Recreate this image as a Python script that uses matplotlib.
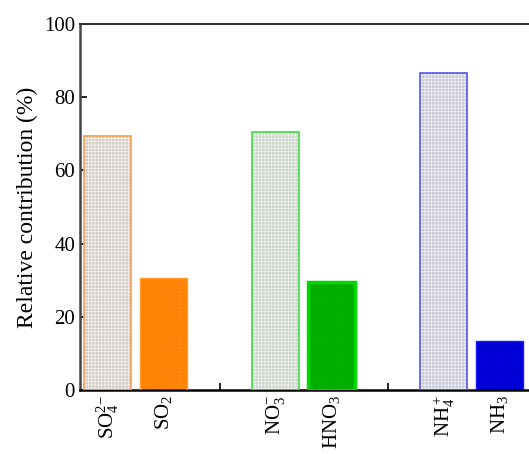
import matplotlib.pyplot as plt

plt.rcParams['font.family'] = 'Liberation Serif'
plt.rcParams['mathtext.fontset'] = 'custom'
plt.rcParams['mathtext.rm'] = 'Liberation Serif'
plt.rcParams['mathtext.it'] = 'Liberation Serif:italic'
plt.rcParams['hatch.linewidth'] = 0.6

# ---------------------------
# Data
# ---------------------------
labels = [r'SO$_4^{2\mathrm{-}}$', r'SO$_2$', r'NO$_3^{\mathrm{-}}$', r'HNO$_3$',
          r'NH$_4^+$', r'NH$_3$']
positions = [1, 2, 4, 5, 7, 8]
values = [69.4, 30.6, 70.6, 29.4, 86.6, 13.4]

# particle phase: pale textured fill, gas phase: solid colour
face_colors = ['#d2ccc6', '#ff8000', '#cbd3cb', '#00b400', '#c8c8d6', '#0000dd']
hatch_colors = ['#f2f0ee', '#ff8a10', '#eef2ee', '#00a800', '#eeeef6', '#0000d0']
edge_colors = ['#f4a050', '#ff9a30', '#40dd40', '#00d800', '#5555ee', '#1515ff']
edge_widths = [1.2, 1.0, 1.2, 2.5, 1.2, 1.0]

fig = plt.figure(figsize=(5.29, 4.54), dpi=100)
ax = fig.add_axes([0.151, 0.141, 0.847, 0.806])

# fill + grid texture
ax.bar(positions, values, width=0.84, color=face_colors, edgecolor=hatch_colors,
       linewidth=0, hatch='+++++', zorder=2)
# outline
ax.bar(positions, values, width=0.84, color='none', edgecolor=edge_colors,
       linewidth=edge_widths, zorder=3)

ax.set_xlim(0.5, 8.5)
ax.set_ylim(0, 100)
ax.set_xticks(range(1, 9))
ax.set_xticklabels([labels[positions.index(i)] if i in positions else ''
                    for i in range(1, 9)], rotation=90, fontsize=15)
ax.set_yticks(range(0, 101, 20))
ax.tick_params(axis='y', labelsize=15, direction='in', length=5, width=1.2)
ax.tick_params(axis='x', direction='in', length=5, width=1.2)
ax.set_ylabel('Relative contribution (%)', fontsize=17)

ax.spines['right'].set_visible(False)
ax.spines['left'].set_linewidth(1.8)
ax.spines['left'].set_color('#444444')
ax.spines['bottom'].set_linewidth(1.8)
ax.spines['top'].set_linewidth(1.5)
ax.spines['top'].set_color('#333333')

plt.savefig('out.png', dpi=100)
